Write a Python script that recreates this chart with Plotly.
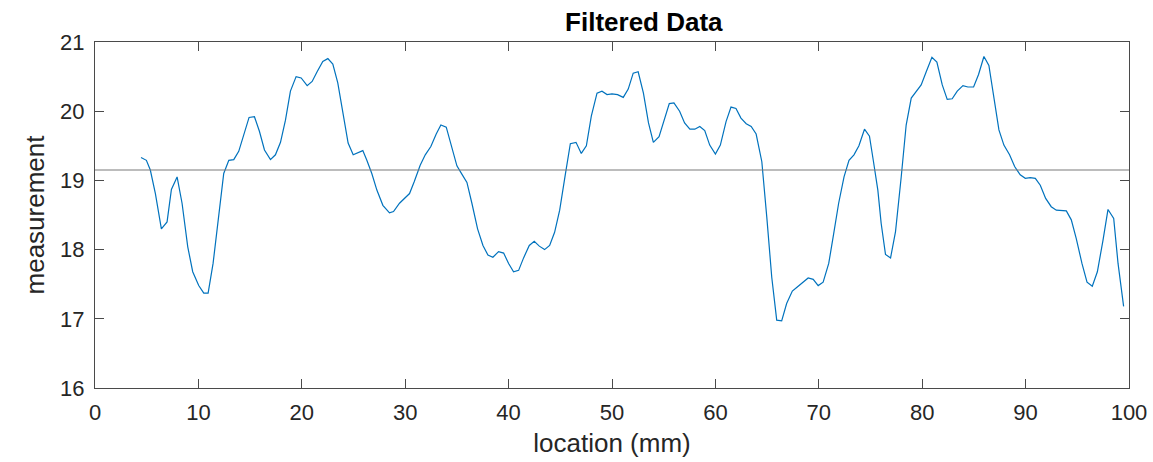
import plotly.graph_objects as go

# location (mm)
location = [4.45, 4.97, 5.35, 5.84, 6.42, 6.97, 7.39, 7.94, 8.42, 8.97, 9.45, 10.03, 10.52, 10.94,
            11.42, 11.90, 12.45, 12.94, 13.42, 13.90, 14.39, 14.90, 15.42, 15.90, 16.39, 16.97,
            17.45, 17.94, 18.42, 18.90, 19.45, 19.94, 20.52, 21.00, 21.48, 22.03, 22.52, 23.00,
            23.48, 23.97, 24.48, 24.97, 25.50, 25.90, 26.29, 26.77, 27.26, 27.84, 28.48, 28.87,
            29.45, 29.94, 30.42, 30.87, 31.45, 31.94, 32.48, 33.00, 33.45, 33.97, 34.45, 35.00,
            35.48, 35.97, 36.45, 37.00, 37.52, 38.00, 38.48, 39.03, 39.52, 40.00, 40.48, 40.97,
            41.45, 42.00, 42.48, 42.97, 43.48, 43.97, 44.45, 44.94, 45.48, 45.97, 46.52, 47.03,
            47.52, 48.00, 48.55, 49.03, 49.52, 50.00, 50.54, 51.09, 51.57, 52.05, 52.53, 53.04,
            53.53, 54.00, 54.55, 55.03, 55.54, 55.99, 56.54, 57.02, 57.53, 58.01, 58.49, 58.97,
            59.45, 60.00, 60.48, 61.03, 61.51, 61.99, 62.47, 62.98, 63.46, 63.94, 64.49, 64.97,
            65.45, 65.93, 66.41, 66.89, 67.44, 67.92, 68.43, 68.97, 69.46, 69.94, 70.42, 70.96,
            71.44, 71.92, 72.44, 72.92, 73.40, 73.88, 74.42, 74.90, 75.29, 75.71, 76.03, 76.45,
            76.94, 77.42, 77.97, 78.45, 78.94, 79.42, 79.90, 80.39, 80.94, 81.42, 81.94, 82.42,
            82.90, 83.39, 83.94, 84.42, 84.97, 85.45, 85.97, 86.45, 86.94, 87.42, 87.90, 88.45,
            88.94, 89.48, 89.97, 90.45, 90.94, 91.42, 91.94, 92.48, 92.97, 93.45, 93.94, 94.42,
            94.90, 95.45, 95.94, 96.45, 96.94, 97.48, 97.97, 98.52, 98.94, 99.48]

# filtered measurement
measurement = [19.33, 19.29, 19.15, 18.81, 18.30, 18.40, 18.87, 19.05, 18.67, 18.04, 17.68, 17.48,
               17.37, 17.37, 17.80, 18.43, 19.10, 19.29, 19.30, 19.42, 19.66, 19.91, 19.92, 19.71,
               19.44, 19.30, 19.37, 19.55, 19.87, 20.29, 20.50, 20.48, 20.37, 20.43, 20.57, 20.72,
               20.76, 20.68, 20.41, 19.97, 19.54, 19.37, 19.40, 19.43, 19.29, 19.10, 18.86, 18.64,
               18.53, 18.55, 18.67, 18.74, 18.81, 18.98, 19.22, 19.37, 19.49, 19.67, 19.80, 19.77,
               19.49, 19.21, 19.09, 18.97, 18.67, 18.30, 18.06, 17.92, 17.89, 17.97, 17.95, 17.80,
               17.68, 17.70, 17.88, 18.06, 18.12, 18.05, 18.00, 18.06, 18.25, 18.57, 19.08, 19.53,
               19.55, 19.39, 19.50, 19.93, 20.26, 20.29, 20.24, 20.25, 20.24, 20.20, 20.32, 20.55,
               20.57, 20.26, 19.83, 19.55, 19.63, 19.87, 20.11, 20.12, 20.00, 19.83, 19.74, 19.74,
               19.78, 19.72, 19.51, 19.38, 19.51, 19.85, 20.06, 20.04, 19.90, 19.82, 19.78, 19.67,
               19.27, 18.47, 17.60, 16.98, 16.97, 17.22, 17.40, 17.46, 17.53, 17.59, 17.57, 17.48,
               17.53, 17.80, 18.23, 18.67, 19.05, 19.29, 19.37, 19.50, 19.74, 19.64, 19.27, 18.86,
               18.38, 17.93, 17.88, 18.26, 19.05, 19.80, 20.19, 20.29, 20.38, 20.57, 20.78, 20.71,
               20.38, 20.17, 20.18, 20.29, 20.37, 20.35, 20.35, 20.53, 20.79, 20.66, 20.21, 19.73,
               19.51, 19.37, 19.20, 19.08, 19.03, 19.04, 19.03, 18.93, 18.74, 18.62, 18.57, 18.57,
               18.56, 18.43, 18.16, 17.80, 17.53, 17.47, 17.68, 18.13, 18.58, 18.45, 17.80, 17.18]

mean_level = 19.15
x_ticks = [0, 10, 20, 30, 40, 50, 60, 70, 80, 90, 100]
y_ticks = [16, 17, 18, 19, 20, 21]

font_family = "Liberation Sans, Arial, Helvetica, sans-serif"
axis_color = "#4a4a4a"
text_color = "#262626"

fig = go.Figure()
fig.add_trace(go.Scatter(
    x=location, y=measurement, mode="lines",
    line=dict(color="#0072BD", width=1.2),
    showlegend=False, hoverinfo="x+y",
))
fig.add_trace(go.Scatter(
    x=[0, 100], y=[mean_level, mean_level], mode="lines",
    line=dict(color="#7a7a7a", width=1.2),
    showlegend=False, hoverinfo="skip",
))

axis_common = dict(
    showgrid=False, zeroline=False, automargin=False,
    showline=True, linecolor=axis_color, linewidth=1, mirror="ticks",
    ticks="inside", ticklen=9, tickwidth=1, tickcolor=axis_color,
    tickfont=dict(family=font_family, size=22, color=text_color),
)

fig.update_layout(
    width=1153, height=462,
    margin=dict(l=95, r=24, t=42, b=74),
    paper_bgcolor="white", plot_bgcolor="white",
    title=dict(text="<b>Filtered Data</b>", x=612 / 1153, xanchor="center", xref="paper",
               y=1 - 22 / 462, yanchor="middle",
               font=dict(family=font_family, size=26, color="black")),
    xaxis=dict(range=[0, 100], tickvals=x_ticks, ticklabelstandoff=5,
               title=dict(text="location (mm)", standoff=9,
                          font=dict(family=font_family, size=26, color=text_color)),
               **axis_common),
    yaxis=dict(range=[16, 21], tickvals=y_ticks, ticklabelstandoff=5,
               title=dict(text="measurement", standoff=8,
                          font=dict(family=font_family, size=26, color=text_color)),
               **axis_common),
)

fig.write_html("out.html")
